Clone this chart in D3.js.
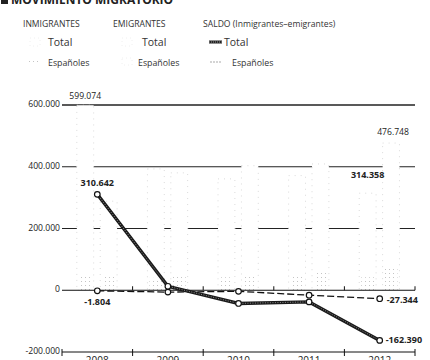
<!DOCTYPE html>
<html lang="es">
<head>
<meta charset="UTF-8">
<title>Movimiento migratorio</title>
<script src="https://d3js.org/d3.v7.min.js"></script>
<style>
  body { margin: 0; background: #fff; }
  svg { display: block; font-family: "Open Sans", "Noto Sans", sans-serif; }
</style>
</head>
<body>
<svg width="430" height="360"></svg>
<script>
// data
const years = ["2008", "2009", "2010", "2011", "2012"];
const inmTotal = [599074, 392962, 360704, 371335, 314358];
const inmEsp = [45000, 40000, 42000, 43000, 42000];
const emTotal = [288432, 380118, 403379, 409034, 476748];
const emEsp = [46804, 46000, 45500, 59000, 69344];
const saldoTotal = [310642, 12844, -42675, -37699, -162390];
const saldoEsp = [-1804, -6000, -3500, -16000, -27344];
const yTicks = [600000, 400000, 200000, 0, -200000];

const es = d3.formatLocale({ decimal: ",", thousands: ".", grouping: [3], currency: ["", " €"], minus: "-" });
const fmt = es.format(",d");

const svg = d3.select("svg");
const left = 62, right = 415;

const x = d3.scaleBand().domain(years).range([left, right]).padding(0);
const bw = x.bandwidth();
const xs = d3.scaleBand().domain(["inm", "em"]).range([bw * 0.21, bw * 0.78]).paddingInner(0.28);
const y = d3.scaleLinear().domain([-200000, 600000]).range([352, 105]);

const defs = svg.append("defs");
const pat = defs.append("pattern").attr("id", "dots")
  .attr("width", 4).attr("height", 4).attr("patternUnits", "userSpaceOnUse");
pat.append("rect").attr("width", 4).attr("height", 4).attr("fill", "#fff");
pat.append("rect").attr("x", 1).attr("y", 1).attr("width", 1).attr("height", 1).attr("fill", "#c4c4c4");

// title (cut by the top edge)
svg.append("rect").attr("x", 1).attr("y", -4).attr("width", 7).attr("height", 8).attr("fill", "#222");
svg.append("text").attr("x", 11).attr("y", 4)
  .attr("font-size", 12).attr("font-weight", 700).attr("fill", "#222")
  .text("MOVIMIENTO MIGRATORIO");

// legend
const lg = svg.append("g").attr("fill", "#333");
const heads = [[23, "INMIGRANTES"], [113, "EMIGRANTES"], [203, "SALDO (Inmigrantes–emigrantes)"]];
lg.selectAll("text.head").data(heads).join("text").attr("class", "head")
  .attr("x", d => d[0]).attr("y", 27).attr("font-size", 8.6).text(d => d[1]);
lg.selectAll("text.tot").data([48, 142, 224]).join("text").attr("class", "tot")
  .attr("x", d => d).attr("y", 46).attr("font-size", 10.5).text("Total");
lg.selectAll("text.esp").data([48, 138, 232]).join("text").attr("class", "esp")
  .attr("x", d => d).attr("y", 66).attr("font-size", 8.8).text("Españoles");
// swatches
[30, 122].forEach(sx => lg.append("rect").attr("x", sx).attr("y", 38).attr("width", 10).attr("height", 8)
  .attr("fill", "#fff").attr("stroke", "#f0f0f0").attr("stroke-dasharray", "1 3"));
lg.append("rect").attr("x", 29).attr("y", 58).attr("width", 9).attr("height", 7).attr("fill", "url(#dots)");
lg.append("rect").attr("x", 122).attr("y", 58).attr("width", 10).attr("height", 7)
  .attr("fill", "#fff").attr("stroke", "#f0f0f0").attr("stroke-dasharray", "1 3");
lg.append("line").attr("x1", 209).attr("x2", 222).attr("y1", 42).attr("y2", 42)
  .attr("stroke", "#222").attr("stroke-width", 3);
lg.append("line").attr("x1", 209).attr("x2", 222).attr("y1", 42).attr("y2", 42)
  .attr("stroke", "#999").attr("stroke-width", 1).attr("stroke-dasharray", "1 1");
lg.append("line").attr("x1", 210).attr("x2", 222).attr("y1", 62).attr("y2", 62)
  .attr("stroke", "#aaa").attr("stroke-width", 1.2).attr("stroke-dasharray", "2 1");

// gridlines
svg.append("g").selectAll("line").data(yTicks.filter(d => d > 0)).join("line")
  .attr("x1", left).attr("x2", right)
  .attr("y1", d => y(d)).attr("y2", d => y(d))
  .attr("stroke", "#222").attr("stroke-width", d => d === 600000 ? 1.4 : 1.2);

// y labels
svg.append("g").selectAll("text").data(yTicks).join("text")
  .attr("x", 60).attr("y", d => y(d) + 2)
  .attr("text-anchor", "end").attr("font-size", 8.6).attr("fill", "#222")
  .text(d => fmt(d));

// bars (very faint in the original print: white with dotted edges)
const groups = [
  { key: "inm", tot: inmTotal, esp: inmEsp },
  { key: "em", tot: emTotal, esp: emEsp }
];
const bars = svg.append("g");
groups.forEach(g => {
  bars.selectAll("rect.t-" + g.key).data(years).join("rect").attr("class", "t-" + g.key)
    .attr("x", d => x(d) + xs(g.key)).attr("width", xs.bandwidth())
    .attr("y", (d, i) => y(g.tot[i])).attr("height", (d, i) => y(0) - y(g.tot[i]))
    .attr("fill", "#fff").attr("stroke", "#dadada").attr("stroke-width", 1).attr("stroke-dasharray", "1 5");
  bars.selectAll("rect.e-" + g.key).data(years).join("rect").attr("class", "e-" + g.key)
    .attr("x", d => x(d) + xs(g.key) + 2).attr("width", xs.bandwidth() - 4)
    .attr("y", (d, i) => y(g.esp[i])).attr("height", (d, i) => y(0) - y(g.esp[i]))
    .attr("fill", "url(#dots)");
});

// zero line and bottom axis
const ax = svg.append("g").attr("stroke", "#111");
ax.append("line").attr("x1", left).attr("x2", right).attr("y1", y(0)).attr("y2", y(0)).attr("stroke-width", 1);
ax.append("line").attr("x1", left).attr("x2", right).attr("y1", y(-200000)).attr("y2", y(-200000)).attr("stroke-width", 1);
const bounds = years.map(d => x(d)).concat([right]);
ax.selectAll("line.z").data(bounds.slice(1)).join("line").attr("class", "z")
  .attr("x1", d => d).attr("x2", d => d).attr("y1", y(0) - 4).attr("y2", y(0));
ax.selectAll("line.b").data(bounds).join("line").attr("class", "b")
  .attr("x1", d => d).attr("x2", d => d).attr("y1", y(-200000) - 3).attr("y2", y(-200000) + 4);

svg.append("g").selectAll("text").data(years).join("text")
  .attr("x", d => x(d) + bw / 2).attr("y", 364)
  .attr("text-anchor", "middle").attr("font-size", 10).attr("fill", "#222")
  .text(d => d);

// saldo lines
const cx = d => x(d) + bw / 2;
const lineT = d3.line().x((d, i) => cx(years[i])).y(d => y(d));
svg.append("path").datum(saldoEsp).attr("d", lineT).attr("fill", "none")
  .attr("stroke", "#111").attr("stroke-width", 1.3).attr("stroke-dasharray", "7 3");
svg.append("path").datum(saldoTotal).attr("d", lineT).attr("fill", "none")
  .attr("stroke", "#1a1a1a").attr("stroke-width", 3.4);
svg.append("path").datum(saldoTotal).attr("d", lineT).attr("fill", "none")
  .attr("stroke", "#8a8a8a").attr("stroke-width", 1).attr("stroke-dasharray", "1 1.5");
[saldoEsp, saldoTotal].forEach(s => {
  svg.append("g").selectAll("circle").data(s).join("circle")
    .attr("cx", (d, i) => cx(years[i])).attr("cy", d => y(d)).attr("r", 2.8)
    .attr("fill", "#fff").attr("stroke", "#111").attr("stroke-width", 1.2);
});

// value labels
const lab = svg.append("g").attr("fill", "#222");
lab.append("text").attr("x", x("2008") + xs("inm") + xs.bandwidth() / 2).attr("y", y(inmTotal[0]) - 6)
  .attr("text-anchor", "middle").attr("font-size", 8.6).text(fmt(inmTotal[0]));
lab.append("text").attr("x", x("2012") + xs("em") + xs.bandwidth() / 2 + 2).attr("y", y(emTotal[4]) - 8)
  .attr("text-anchor", "middle").attr("font-size", 8.6).text(fmt(emTotal[4]));
lab.append("text").attr("x", x("2012") + xs("inm") + xs.bandwidth() / 2).attr("y", y(inmTotal[4]) - 15)
  .attr("text-anchor", "middle").attr("font-size", 9).attr("font-weight", 700).text(fmt(inmTotal[4]));
lab.append("text").attr("x", cx("2008")).attr("y", y(saldoTotal[0]) - 8)
  .attr("text-anchor", "middle").attr("font-size", 9).attr("font-weight", 700).text(fmt(saldoTotal[0]));
lab.append("text").attr("x", cx("2008")).attr("y", y(saldoEsp[0]) + 14)
  .attr("text-anchor", "middle").attr("font-size", 9).attr("font-weight", 700).text(fmt(saldoEsp[0]));
lab.append("text").attr("x", cx("2012") + 7).attr("y", y(saldoEsp[4]) + 4)
  .attr("font-size", 9).attr("font-weight", 700).text(fmt(saldoEsp[4]));
lab.append("text").attr("x", cx("2012") + 6).attr("y", y(saldoTotal[4]) + 3)
  .attr("font-size", 9).attr("font-weight", 700).text(fmt(saldoTotal[4]));
</script>
</body>
</html>
